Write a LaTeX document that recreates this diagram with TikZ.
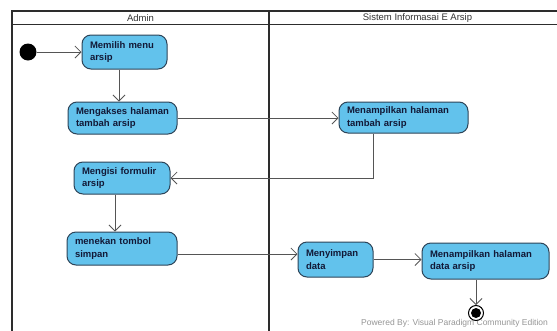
\documentclass[tikz,border=0pt]{standalone}
\usepackage{fontspec}
\setmainfont{Liberation Sans}
\usetikzlibrary{arrows.meta,calc}
\definecolor{boxfill}{RGB}{98,194,236}
\definecolor{boxline}{RGB}{45,68,88}
\definecolor{boxtext}{RGB}{18,25,55}
\definecolor{laneline}{RGB}{45,45,45}
\definecolor{flow}{RGB}{85,85,85}
\definecolor{wm}{RGB}{150,150,150}
\tikzset{
  act/.style={draw=boxline, fill=boxfill, rounded corners=9pt, line width=1pt,
    font=\fontsize{9.5}{12.5}\selectfont\bfseries, text=boxtext, align=left,
    inner xsep=8pt, inner ysep=0pt},
  flowarr/.style={draw=flow, line width=0.8pt,
    -{Straight Barb[length=6pt,width=12pt,line width=0.8pt]}},
  lane/.style={draw=laneline, line width=1.6pt},
  lanetitle/.style={font=\fontsize{9.5}{11}\selectfont, text=black!80},
}
\begin{document}
\begin{tikzpicture}[x=1pt,y=-1pt]
\clip (0,0) rectangle (557,330);
\fill[white] (0,0) rectangle (557,330);
% swimlane frame
\draw[lane] (12,345) -- (12,11) -- (575,11);
\draw[lane] (12,24.5) -- (575,24.5);
\draw[lane] (269,11) -- (269,345);
\node[lanetitle] (admin) at (140.5,18) {Admin};
\node[lanetitle] (sis) at (417.5,18) {Sistem Informasai E Arsip};
% watermark
\node[anchor=west, font=\fontsize{8.5}{10}\selectfont, text=wm, inner sep=0] (wmark) at (361,323) {Powered By: Visual Paradigm Community Edition};
% nodes
\node[circle, fill=black, minimum size=17pt, inner sep=0] (start) at (28,52) {};
\node[act, minimum width=85pt, minimum height=34pt, text width=69pt] (memilih) at (124.5,52) {Memilih menu\\arsip};
\node[act, minimum width=109pt, minimum height=32pt, text width=93pt] (mengakses) at (122.5,118) {Mengakses halaman\\tambah arsip};
\node[act, minimum width=129pt, minimum height=31pt, text width=113pt] (tambah) at (403.5,117.5) {Menampilkan halaman\\tambah arsip};
\node[act, minimum width=96pt, minimum height=32pt, text width=80pt] (mengisi) at (122,178) {Mengisi formulir\\arsip};
\node[act, minimum width=110pt, minimum height=33pt, text width=94pt] (menekan) at (122,248.5) {menekan tombol\\simpan};
\node[act, minimum width=75pt, minimum height=35pt, text width=59pt] (menyimpan) at (335.5,259.5) {Menyimpan\\data};
\node[act, minimum width=127pt, minimum height=36pt, text width=111pt] (data) at (485.5,261) {Menampilkan halaman\\data arsip};
\node[circle, draw=black, line width=1pt, fill=white, minimum size=15pt, inner sep=0] (end) at (476,313) {};
\node[circle, fill=black, minimum size=10pt, inner sep=0] (endin) at (end.center) {};
% flows
\draw[flowarr] (start) -- (memilih);
\draw[flowarr] ([xshift=-5.5pt]memilih.south) -- ([xshift=-3.5pt]mengakses.north);
\draw[flowarr] (mengakses.east) -- (mengakses.east -| tambah.west);
\draw[flowarr] ([xshift=-30.5pt]tambah.south) |- (mengisi.east);
\draw[flowarr] ([xshift=-7pt]mengisi.south) -- ([xshift=-7pt]menekan.north);
\draw[flowarr] ([yshift=-5.5pt]menekan.east) -- ([yshift=-5.5pt]menekan.east -| menyimpan.west);
\draw[flowarr] (menyimpan.east) -- (menyimpan.east -| data.west);
\draw[flowarr] (end.north |- data.south) -- (end.north);
\end{tikzpicture}
\end{document}
